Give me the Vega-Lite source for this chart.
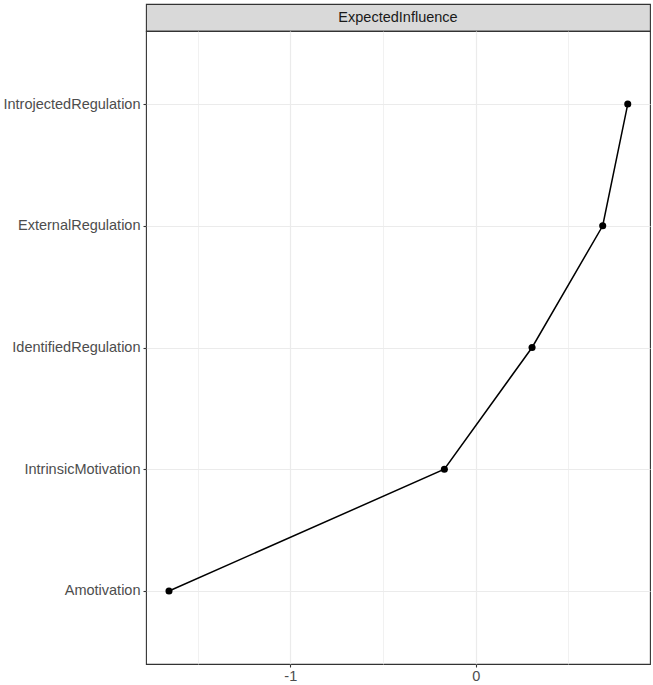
{
  "$schema": "https://vega.github.io/schema/vega-lite/v6.json",
  "description": "Expected influence centrality of motivation nodes, ggplot-style facet strip on top.",
  "background": "white",
  "padding": {"left": 2, "top": 3, "right": 3, "bottom": 2},
  "spacing": 0,
  "bounds": "flush",
  "datasets": {
    "centrality": [
      {"measure": "ExpectedInfluence", "node": "Amotivation", "value": -1.654},
      {"measure": "ExpectedInfluence", "node": "IntrinsicMotivation", "value": -0.169},
      {"measure": "ExpectedInfluence", "node": "IdentifiedRegulation", "value": 0.304},
      {"measure": "ExpectedInfluence", "node": "ExternalRegulation", "value": 0.685},
      {"measure": "ExpectedInfluence", "node": "IntrojectedRegulation", "value": 0.82}
    ]
  },
  "config": {
    "font": "Liberation Sans",
    "axis": {
      "labelFont": "Liberation Sans",
      "labelFontSize": 14.5,
      "labelColor": "#4D4D4D",
      "tickColor": "#333333",
      "tickSize": 3,
      "tickWidth": 1.1,
      "grid": true,
      "gridColor": "#EBEBEB",
      "gridWidth": 1.2,
      "domain": false,
      "title": null
    }
  },
  "vconcat": [
    {
      "width": 504,
      "height": 27,
      "view": {"fill": "#D9D9D9", "stroke": "#333333", "strokeWidth": 1.1},
      "data": {"values": [{"measure": "ExpectedInfluence"}]},
      "mark": {"type": "text", "fontSize": 14.5, "color": "#1A1A1A", "font": "Liberation Sans"},
      "encoding": {"text": {"field": "measure", "type": "nominal"}}
    },
    {
      "width": 504,
      "height": 633,
      "view": {"fill": "white", "stroke": "#333333", "strokeWidth": 1.1},
      "data": {"name": "centrality"},
      "encoding": {
        "x": {
          "field": "value",
          "type": "quantitative",
          "scale": {"domain": [-1.778, 0.94], "nice": false, "zero": false},
          "axis": {
            "values": [-1.5, -1, -0.5, 0, 0.5],
            "labelExpr": "datum.value == -1 ? '-1' : datum.value == 0 ? '0' : ''",
            "tickOpacity": {"condition": {"test": "datum.value % 1 !== 0", "value": 0}, "value": 1},
            "gridWidth": {"condition": {"test": "datum.value % 1 !== 0", "value": 0.7}, "value": 1.2},
            "labelPadding": 2
          }
        },
        "y": {
          "field": "node",
          "type": "nominal",
          "sort": ["IntrojectedRegulation", "ExternalRegulation", "IdentifiedRegulation", "IntrinsicMotivation", "Amotivation"],
          "scale": {"padding": 0.6},
          "axis": {"labelPadding": 3, "grid": true}
        }
      },
      "layer": [
        {"mark": {"type": "line", "color": "black", "strokeWidth": 1.5}},
        {"mark": {"type": "point", "filled": true, "color": "black", "opacity": 1, "size": 50}}
      ]
    }
  ]
}
